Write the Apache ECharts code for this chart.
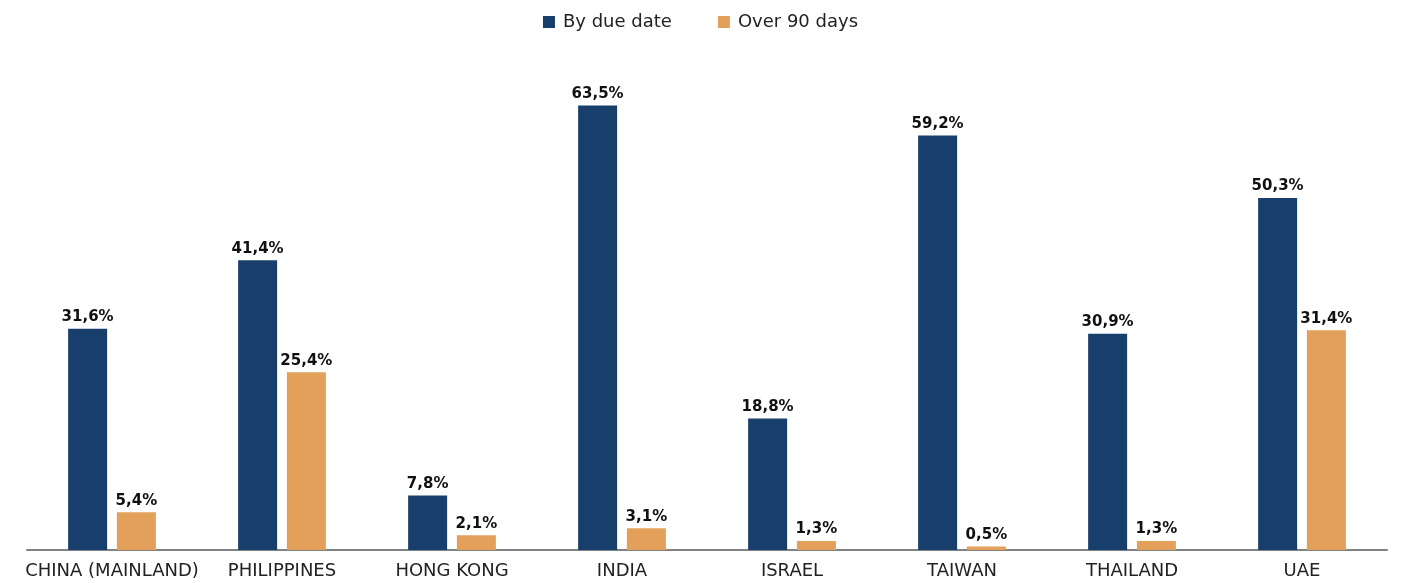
<!DOCTYPE html>
<html><head><meta charset="utf-8">
<script src="https://cdn.jsdelivr.net/npm/echarts@6/dist/echarts.min.js"></script>
<style>html,body{margin:0;padding:0;background:#fff}#c{width:1401px;height:583px}</style>
</head><body><div id="c"></div>
<script>
const categories = ['CHINA (MAINLAND)','PHILIPPINES','HONG KONG','INDIA','ISRAEL','TAIWAN','THAILAND','UAE'];
const byDueDate = [31.6, 41.4, 7.8, 63.5, 18.8, 59.2, 30.9, 50.3];
const over90Days = [5.4, 25.4, 2.1, 3.1, 1.3, 0.5, 1.3, 31.4];
const seriesNames = ['By due date', 'Over 90 days'];

const fmt = p => p.value.toFixed(1).replace('.', ',') + '%';
const labelStyle = {show:true, position:'top', distance:4, formatter:fmt, color:'#111', fontFamily:'DejaVu Sans', fontWeight:'bold', fontSize:15};

const chart = echarts.init(document.getElementById('c'));
chart.setOption({
  animation:false,
  legend:{top:8, left:'center', itemWidth:12, itemHeight:12, itemGap:46, icon:'rect',
    textStyle:{fontFamily:'DejaVu Sans', fontSize:18, color:'#222', padding:[0,0,0,3]}, data:seriesNames},
  grid:{left:27, right:14, top:60, bottom:33, containLabel:false},
  xAxis:{type:'category', data:categories, axisTick:{show:false},
    axisLine:{lineStyle:{color:'#7f8383', width:2}},
    axisLabel:{fontFamily:'DejaVu Sans', fontSize:18, color:'#222', margin:12, interval:0}},
  yAxis:{type:'value', min:0, max:70, show:false, splitLine:{show:false}},
  series:[
    {name:seriesNames[0], type:'bar', data:byDueDate, barWidth:39, barGap:'25%', itemStyle:{color:'#183f6b'}, label:labelStyle},
    {name:seriesNames[1], type:'bar', data:over90Days, barWidth:39, itemStyle:{color:'#e3a05a'}, label:labelStyle}
  ]
});
</script></body></html>
